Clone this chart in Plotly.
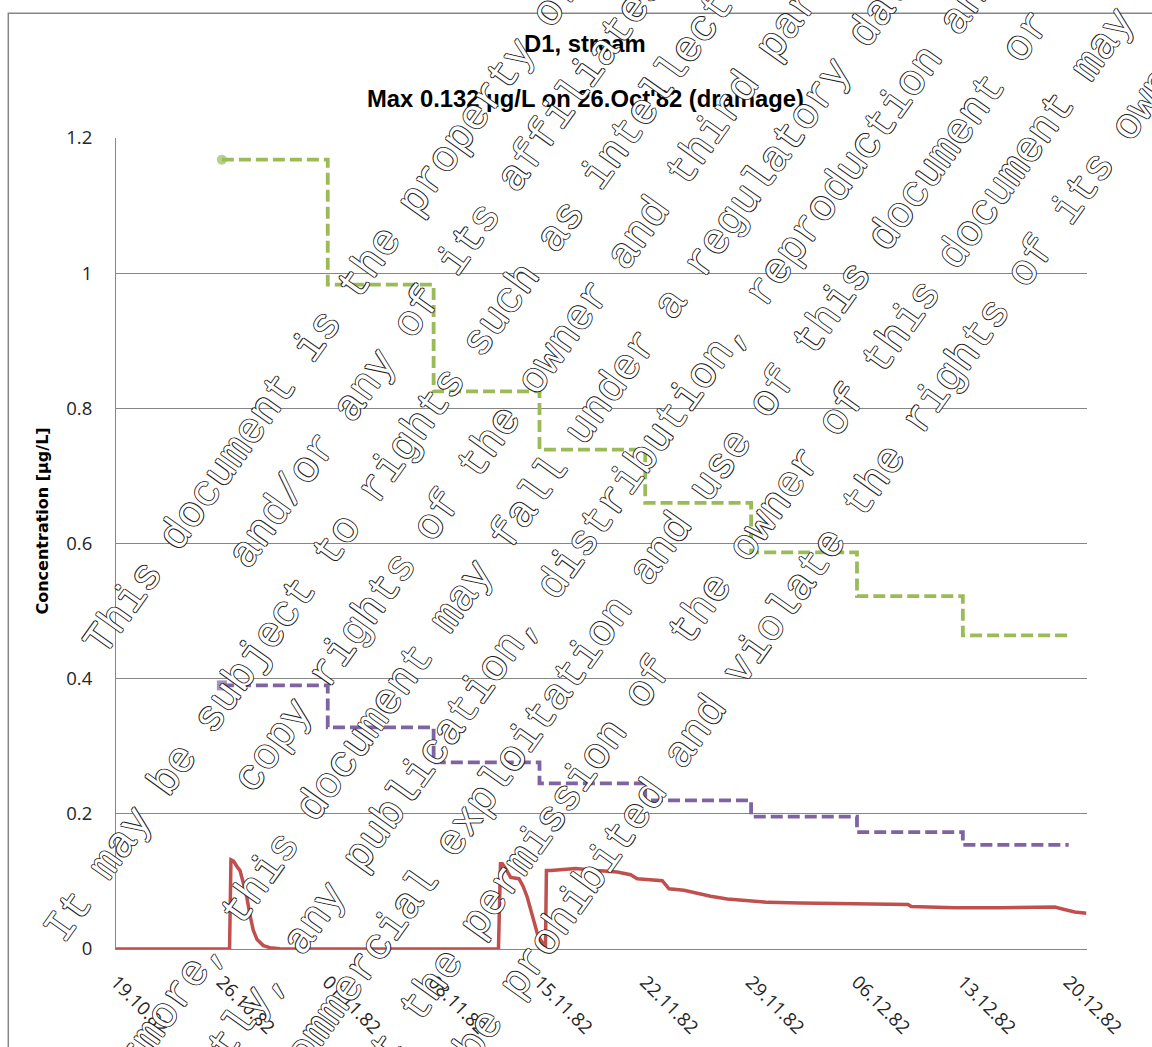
import numpy as np
import pandas as pd
import plotly.graph_objects as go

# ---------------------------------------------------------------- data
START = pd.Timestamp("1982-10-19")

# Stream concentration [µg/L]; time in days after 19.10.1982 00:00
drain_days = [0.15, 7.54, 7.63, 7.80, 8.02, 8.22, 8.41, 8.66, 8.87, 9.08, 9.33,
              9.74, 10.17, 10.82, 12.12, 25.04, 25.17, 25.29, 25.53, 25.83,
              26.37, 26.64, 26.91, 27.16, 27.35, 27.58, 27.79, 28.00, 28.10,
              28.16, 28.44, 29.04, 30.06, 31.47, 32.77, 33.64, 34.07, 35.70,
              36.14, 37.11, 38.85, 39.93, 41.45, 42.58, 44.66, 47.78, 51.69,
              51.90, 54.73, 57.68, 61.24, 61.67, 62.54, 63.29]
drain_conc = [0.0, 0.0, 0.132, 0.130, 0.122, 0.116, 0.100, 0.077, 0.050, 0.028,
              0.014, 0.005, 0.002, 0.0005, 0.0, 0.0, 0.126, 0.126, 0.118, 0.106,
              0.104, 0.093, 0.077, 0.056, 0.037, 0.022, 0.013, 0.006, 0.005,
              0.116, 0.116, 0.117, 0.119, 0.116, 0.114, 0.110, 0.104, 0.101,
              0.089, 0.087, 0.078, 0.074, 0.071, 0.069, 0.068, 0.067, 0.066,
              0.063, 0.061, 0.061, 0.062, 0.0596, 0.0547, 0.053]

# Weekly step series
step_days = [7.04, 13.93, 20.82, 27.71, 34.59, 41.48, 48.37, 55.26, 62.15]
green_conc = [1.168, 0.983, 0.825, 0.739, 0.660, 0.587, 0.522, 0.464, 0.464]
purple_conc = [0.390, 0.328, 0.276, 0.245, 0.220, 0.196, 0.173, 0.154, 0.154]

x_tick_labels = ["19.10.82", "26.10.82", "01.11.82", "08.11.82", "15.11.82",
                 "22.11.82", "29.11.82", "06.12.82", "13.12.82", "20.12.82"]
y_tick_values = [0, 0.2, 0.4, 0.6, 0.8, 1.0, 1.2]

title_line1 = "D1, stream"
title_line2 = "Max 0.132 µg/L on 26.Oct'82 (drainage)"
y_title = "Concentration [µg/L]"

watermark_lines = [
    "This document is the property of Bayer AG",
    "and/or any of its affiliates.",
    "It may be subject to rights such as intellectual property and",
    "copy rights of the owner and third parties.",
    "Furthermore, this document may fall under a regulatory data protection regime.",
    "Consequently, any publication, distribution, reproduction and/or publishing and",
    "any commercial exploitation and use of this document or its contents",
    "without the permission of the owner of this document may therefore",
    "be prohibited and violate the rights of its owner.",
]


def to_dates(days):
    return START + pd.to_timedelta(np.asarray(days, dtype=float), unit="D")


# ---------------------------------------------------------------- layout geometry (px)
W, H = 1152, 1047
PL, PR, PT, PB = 116, 1087, 138, 949

AXIS_START = 0.15                 # days after START at the left edge
AXIS_END = 63.34                  # days after START at the right edge
TICK_STEP = 62.0 / 9.0            # days between labelled ticks


def paper(x, y):
    return (x - PL) / (PR - PL), (PB - y) / (PB - PT)


GRAY = "#868686"
RED = "#C0504D"
GREEN = "#9BBB59"
PURPLE = "#8064A2"
TXT = "#262626"

fig = go.Figure()

fig.add_trace(go.Scatter(
    x=to_dates(step_days), y=green_conc, mode="lines+markers", line_shape="hv",
    line=dict(color=GREEN, width=3.8, dash="12px,5px"),
    marker=dict(symbol="circle", color=GREEN, size=[10] + [0] * (len(step_days) - 1),
                line=dict(width=0)),
    name="step 1", showlegend=False, hoverinfo="skip"))

fig.add_trace(go.Scatter(
    x=to_dates(step_days), y=purple_conc, mode="lines+markers", line_shape="hv",
    line=dict(color=PURPLE, width=3.8, dash="12px,5px"),
    marker=dict(symbol="square", color=PURPLE, size=[10] + [0] * (len(step_days) - 1),
                line=dict(width=0)),
    name="step 2", showlegend=False, hoverinfo="skip"))

fig.add_trace(go.Scatter(
    x=to_dates(drain_days), y=drain_conc, mode="lines",
    line=dict(color=RED, width=3.5),
    name="drainage", showlegend=False, hoverinfo="skip"))

tick_vals = to_dates([AXIS_START + k * TICK_STEP for k in range(len(x_tick_labels))])

fig.update_xaxes(
    type="date",
    range=[to_dates([AXIS_START])[0], to_dates([AXIS_END])[0]],
    tickmode="array", tickvals=tick_vals, ticktext=x_tick_labels,
    tickangle=45, tickfont=dict(family="Open Sans", size=18.5, color=TXT),
    showgrid=False, zeroline=False, showline=True, linecolor=GRAY, linewidth=1,
    ticks="", ticklabelstandoff=14,
)
fig.update_yaxes(
    range=[0, 1.2], tickmode="array", tickvals=y_tick_values,
    ticktext=[f"{v:g}" for v in y_tick_values],
    tickfont=dict(family="Open Sans", size=18.5, color=TXT),
    showgrid=True, gridcolor=GRAY, gridwidth=1, zeroline=False,
    showline=True, linecolor=GRAY, linewidth=1, ticks="", ticklabelstandoff=19,
)

annotations = []
# titles
for text, ypx in [(title_line1, 43.3), (title_line2, 98.3)]:
    xp, yp = paper(585, ypx)
    annotations.append(dict(
        text=f"<b>{text}</b>", x=xp, y=yp, xref="paper", yref="paper",
        xanchor="center", yanchor="middle", showarrow=False,
        font=dict(family="Liberation Sans", size=23.8, color="#000000")))

xp, yp = paper(42, 521.5)
annotations.append(dict(
    text=f"<b>{y_title}</b>", x=xp, y=yp, xref="paper", yref="paper",
    xanchor="center", yanchor="middle", showarrow=False, textangle=-90,
    font=dict(family="DejaVu Sans", size=16, color="#000000")))

# diagonal outlined notice text
ANGLE = 54.5
a = np.deg2rad(ANGLE)
u = np.array([np.cos(a), -np.sin(a)])   # along the text
n = np.array([np.sin(a), np.cos(a)])    # towards the next line
ALONG = 52.0
P_MID = 723.6
SPACING = 67.2
OUTLINE = "#1e1e1e"
shadow = (f"1px 0px 0px {OUTLINE}, -1px 0px 0px {OUTLINE}, "
          f"0px 1px 0px {OUTLINE}, 0px -1px 0px {OUTLINE}")
mid = (len(watermark_lines) - 1) / 2
for k, line in enumerate(watermark_lines):
    p = P_MID + (k - mid) * SPACING
    cx, cy = ALONG * u + p * n
    xp, yp = paper(cx, cy)
    annotations.append(dict(
        text=line, x=xp, y=yp, xref="paper", yref="paper",
        xanchor="center", yanchor="middle", showarrow=False, textangle=-ANGLE,
        font=dict(family="Liberation Mono", size=42.8, color="#ffffff", shadow=shadow)))

# outer chart frame
x0, y0 = paper(8.3, 1070)
x1, y1 = paper(1175, 13.3)
shapes = [dict(type="rect", xref="paper", yref="paper", x0=x0, y0=y0, x1=x1, y1=y1,
               line=dict(color=GRAY, width=1.5), fillcolor="rgba(0,0,0,0)", layer="below")]

fig.update_layout(
    width=W, height=H,
    margin=dict(l=PL, r=W - PR, t=PT, b=H - PB, autoexpand=False),
    paper_bgcolor="white", plot_bgcolor="white",
    showlegend=False, annotations=annotations, shapes=shapes,
)

fig.write_html("out.html")
